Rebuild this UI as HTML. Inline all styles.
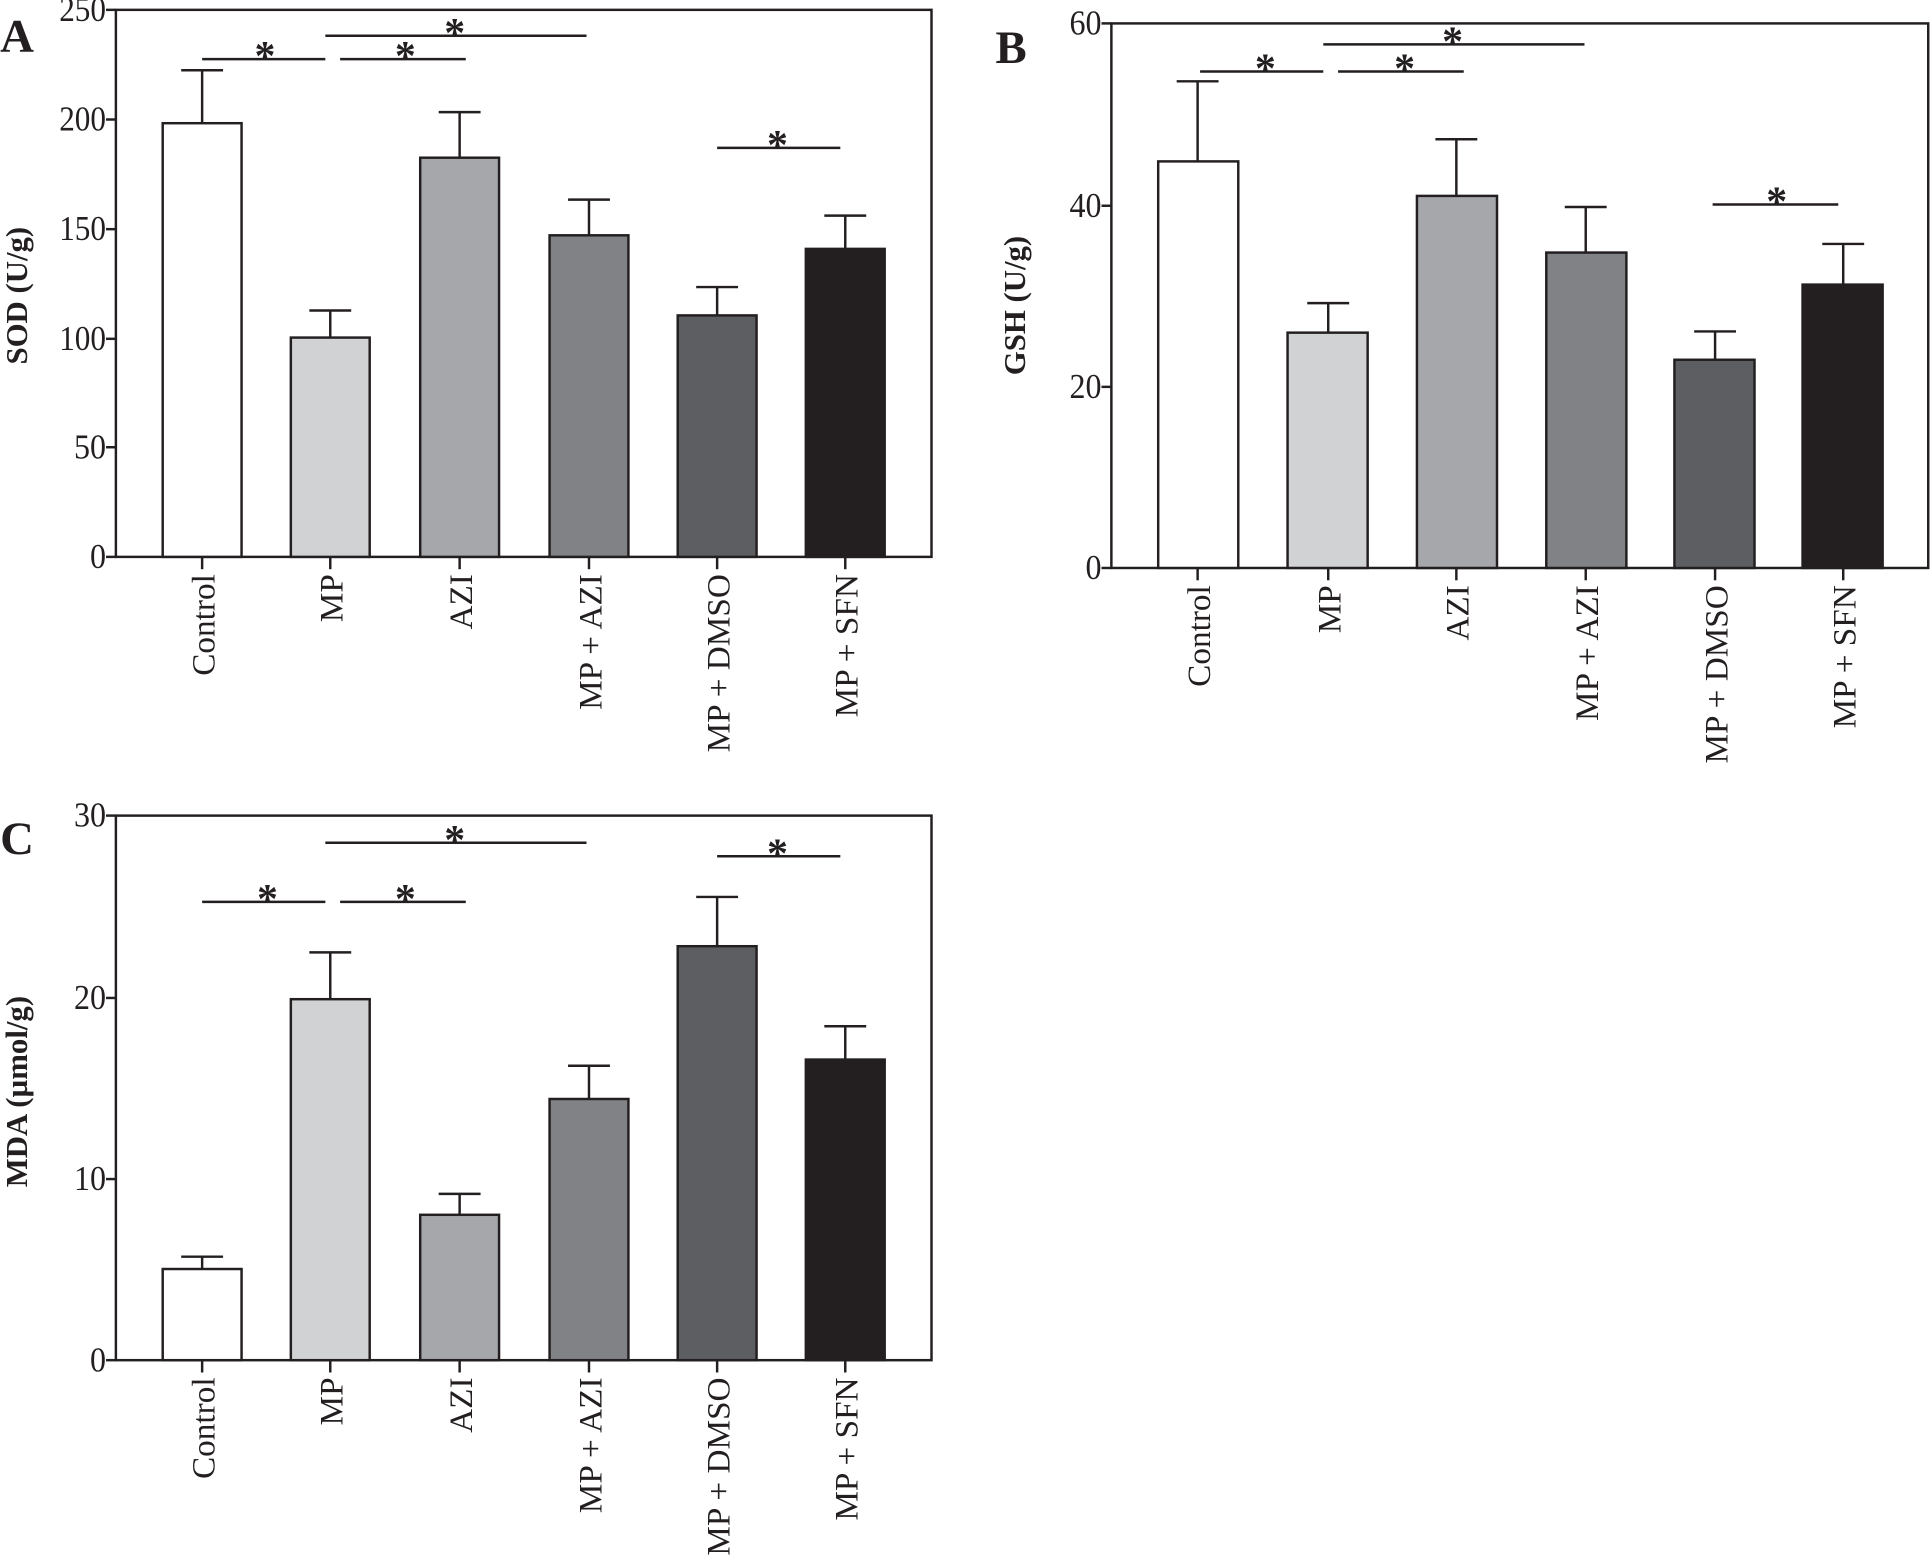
<!DOCTYPE html>
<html><head><meta charset="utf-8"><style>
html,body{margin:0;padding:0;background:#fff}
svg{display:block}
text{font-family:"Liberation Serif",serif;fill:#231f20}
</style></head><body>
<svg width="1932" height="1561" viewBox="0 0 1568 1267" xmlns="http://www.w3.org/2000/svg">
<g id="A">
<text x="0" y="42" font-size="38" font-weight="bold">A</text>
<text transform="translate(22,240) rotate(-90)" font-size="25" font-weight="bold" text-anchor="middle">SOD (U/g)</text>
<g stroke="#231f20" stroke-width="2" fill="none">
<rect x="94" y="8" width="662" height="444"/>
<line x1="86" y1="8" x2="94" y2="8"/><line x1="86" y1="97" x2="94" y2="97"/><line x1="86" y1="186" x2="94" y2="186"/><line x1="86" y1="275" x2="94" y2="275"/><line x1="86" y1="363" x2="94" y2="363"/><line x1="86" y1="452" x2="94" y2="452"/>
<line x1="164" y1="452" x2="164" y2="462"/><line x1="268" y1="452" x2="268" y2="462"/><line x1="373" y1="452" x2="373" y2="462"/><line x1="478" y1="452" x2="478" y2="462"/><line x1="582" y1="452" x2="582" y2="462"/><line x1="686" y1="452" x2="686" y2="462"/>
</g>
<g font-size="28" text-anchor="end"><text x="86" y="17" textLength="38" lengthAdjust="spacingAndGlyphs">250</text><text x="86" y="106" textLength="38" lengthAdjust="spacingAndGlyphs">200</text><text x="86" y="195" textLength="38" lengthAdjust="spacingAndGlyphs">150</text><text x="86" y="284" textLength="38" lengthAdjust="spacingAndGlyphs">100</text><text x="86" y="372" textLength="26" lengthAdjust="spacingAndGlyphs">50</text><text x="86" y="461" textLength="13" lengthAdjust="spacingAndGlyphs">0</text></g>
<g stroke="#231f20" stroke-width="2">
<line x1="164" y1="100" x2="164" y2="57"/><line x1="147" y1="57" x2="181" y2="57"/>
<line x1="268" y1="274" x2="268" y2="252"/><line x1="251" y1="252" x2="285" y2="252"/>
<line x1="373" y1="128" x2="373" y2="91"/><line x1="356" y1="91" x2="390" y2="91"/>
<line x1="478" y1="191" x2="478" y2="162"/><line x1="461" y1="162" x2="495" y2="162"/>
<line x1="582" y1="256" x2="582" y2="233"/><line x1="565" y1="233" x2="599" y2="233"/>
<line x1="686" y1="202" x2="686" y2="175"/><line x1="669" y1="175" x2="703" y2="175"/>
<rect x="132" y="100" width="64" height="352" fill="#ffffff"/>
<rect x="236" y="274" width="64" height="178" fill="#d1d2d4"/>
<rect x="341" y="128" width="64" height="324" fill="#a6a7ab"/>
<rect x="446" y="191" width="64" height="261" fill="#818286"/>
<rect x="550" y="256" width="64" height="196" fill="#5d5e61"/>
<rect x="654" y="202" width="64" height="250" fill="#231f20"/>
<line x1="164" y1="48" x2="264" y2="48"/><line x1="276" y1="48" x2="378" y2="48"/><line x1="264" y1="29" x2="476" y2="29"/><line x1="582" y1="120" x2="682" y2="120"/>
</g>
<g font-size="34" font-weight="bold" text-anchor="middle"><text x="215" y="57">*</text><text x="329" y="57">*</text><text x="369" y="38">*</text><text x="631" y="129">*</text></g>
<g font-size="27" text-anchor="end">
<text transform="translate(174,466) rotate(-90)">Control</text>
<text transform="translate(278,466) rotate(-90)">MP</text>
<text transform="translate(383,466) rotate(-90)">AZI</text>
<text transform="translate(488,466) rotate(-90)">MP + AZI</text>
<text transform="translate(592,466) rotate(-90)">MP + DMSO</text>
<text transform="translate(696,466) rotate(-90)">MP + SFN</text>
</g>
</g>

<g id="B">
<text x="808" y="51" font-size="38" font-weight="bold">B</text>
<text transform="translate(832,248) rotate(-90)" font-size="25" font-weight="bold" text-anchor="middle">GSH (U/g)</text>
<g stroke="#231f20" stroke-width="2" fill="none">
<rect x="902" y="19" width="663" height="442"/>
<line x1="894" y1="19" x2="902" y2="19"/><line x1="894" y1="167" x2="902" y2="167"/><line x1="894" y1="314" x2="902" y2="314"/><line x1="894" y1="461" x2="902" y2="461"/>
<line x1="972" y1="461" x2="972" y2="471"/><line x1="1078" y1="461" x2="1078" y2="471"/><line x1="1182" y1="461" x2="1182" y2="471"/><line x1="1287" y1="461" x2="1287" y2="471"/><line x1="1392" y1="461" x2="1392" y2="471"/><line x1="1496" y1="461" x2="1496" y2="471"/>
</g>
<g font-size="28" text-anchor="end"><text x="894" y="28" textLength="26" lengthAdjust="spacingAndGlyphs">60</text><text x="894" y="176" textLength="26" lengthAdjust="spacingAndGlyphs">40</text><text x="894" y="323" textLength="26" lengthAdjust="spacingAndGlyphs">20</text><text x="894" y="470" textLength="13" lengthAdjust="spacingAndGlyphs">0</text></g>
<g stroke="#231f20" stroke-width="2">
<line x1="972" y1="131" x2="972" y2="66"/><line x1="955" y1="66" x2="989" y2="66"/>
<line x1="1078" y1="270" x2="1078" y2="246"/><line x1="1061" y1="246" x2="1095" y2="246"/>
<line x1="1182" y1="159" x2="1182" y2="113"/><line x1="1165" y1="113" x2="1199" y2="113"/>
<line x1="1287" y1="205" x2="1287" y2="168"/><line x1="1270" y1="168" x2="1304" y2="168"/>
<line x1="1392" y1="292" x2="1392" y2="269"/><line x1="1375" y1="269" x2="1409" y2="269"/>
<line x1="1496" y1="231" x2="1496" y2="198"/><line x1="1479" y1="198" x2="1513" y2="198"/>
<rect x="940" y="131" width="65" height="330" fill="#ffffff"/>
<rect x="1045" y="270" width="65" height="191" fill="#d1d2d4"/>
<rect x="1150" y="159" width="65" height="302" fill="#a6a7ab"/>
<rect x="1255" y="205" width="65" height="256" fill="#818286"/>
<rect x="1359" y="292" width="65" height="169" fill="#5d5e61"/>
<rect x="1463" y="231" width="65" height="230" fill="#231f20"/>
<line x1="974" y1="58" x2="1074" y2="58"/><line x1="1086" y1="58" x2="1188" y2="58"/><line x1="1074" y1="36" x2="1286" y2="36"/><line x1="1390" y1="166" x2="1492" y2="166"/>
</g>
<g font-size="34" font-weight="bold" text-anchor="middle"><text x="1027" y="67">*</text><text x="1140" y="67">*</text><text x="1179" y="45">*</text><text x="1442" y="175">*</text></g>
<g font-size="27" text-anchor="end">
<text transform="translate(982,475) rotate(-90)">Control</text>
<text transform="translate(1088,475) rotate(-90)">MP</text>
<text transform="translate(1192,475) rotate(-90)">AZI</text>
<text transform="translate(1297,475) rotate(-90)">MP + AZI</text>
<text transform="translate(1402,475) rotate(-90)">MP + DMSO</text>
<text transform="translate(1506,475) rotate(-90)">MP + SFN</text>
</g>
</g>

<g id="C">
<text x="0" y="693" font-size="38" font-weight="bold">C</text>
<text transform="translate(22,886) rotate(-90)" font-size="25" font-weight="bold" text-anchor="middle">MDA (µmol/g)</text>
<g stroke="#231f20" stroke-width="2" fill="none">
<rect x="94" y="662" width="662" height="442"/>
<line x1="86" y1="662" x2="94" y2="662"/><line x1="86" y1="810" x2="94" y2="810"/><line x1="86" y1="957" x2="94" y2="957"/><line x1="86" y1="1104" x2="94" y2="1104"/>
<line x1="164" y1="1104" x2="164" y2="1114"/><line x1="268" y1="1104" x2="268" y2="1114"/><line x1="373" y1="1104" x2="373" y2="1114"/><line x1="478" y1="1104" x2="478" y2="1114"/><line x1="582" y1="1104" x2="582" y2="1114"/><line x1="686" y1="1104" x2="686" y2="1114"/>
</g>
<g font-size="28" text-anchor="end"><text x="86" y="671" textLength="26" lengthAdjust="spacingAndGlyphs">30</text><text x="86" y="819" textLength="26" lengthAdjust="spacingAndGlyphs">20</text><text x="86" y="966" textLength="26" lengthAdjust="spacingAndGlyphs">10</text><text x="86" y="1113" textLength="13" lengthAdjust="spacingAndGlyphs">0</text></g>
<g stroke="#231f20" stroke-width="2">
<line x1="164" y1="1030" x2="164" y2="1020"/><line x1="147" y1="1020" x2="181" y2="1020"/>
<line x1="268" y1="811" x2="268" y2="773"/><line x1="251" y1="773" x2="285" y2="773"/>
<line x1="373" y1="986" x2="373" y2="969"/><line x1="356" y1="969" x2="390" y2="969"/>
<line x1="478" y1="892" x2="478" y2="865"/><line x1="461" y1="865" x2="495" y2="865"/>
<line x1="582" y1="768" x2="582" y2="728"/><line x1="565" y1="728" x2="599" y2="728"/>
<line x1="686" y1="860" x2="686" y2="833"/><line x1="669" y1="833" x2="703" y2="833"/>
<rect x="132" y="1030" width="64" height="74" fill="#ffffff"/>
<rect x="236" y="811" width="64" height="293" fill="#d1d2d4"/>
<rect x="341" y="986" width="64" height="118" fill="#a6a7ab"/>
<rect x="446" y="892" width="64" height="212" fill="#818286"/>
<rect x="550" y="768" width="64" height="336" fill="#5d5e61"/>
<rect x="654" y="860" width="64" height="244" fill="#231f20"/>
<line x1="164" y1="732" x2="264" y2="732"/><line x1="276" y1="732" x2="378" y2="732"/><line x1="264" y1="684" x2="476" y2="684"/><line x1="582" y1="695" x2="682" y2="695"/>
</g>
<g font-size="34" font-weight="bold" text-anchor="middle"><text x="217" y="741">*</text><text x="329" y="741">*</text><text x="369" y="693">*</text><text x="631" y="704">*</text></g>
<g font-size="27" text-anchor="end">
<text transform="translate(174,1118) rotate(-90)">Control</text>
<text transform="translate(278,1118) rotate(-90)">MP</text>
<text transform="translate(383,1118) rotate(-90)">AZI</text>
<text transform="translate(488,1118) rotate(-90)">MP + AZI</text>
<text transform="translate(592,1118) rotate(-90)">MP + DMSO</text>
<text transform="translate(696,1118) rotate(-90)">MP + SFN</text>
</g>
</g>
</svg>
</body></html>
